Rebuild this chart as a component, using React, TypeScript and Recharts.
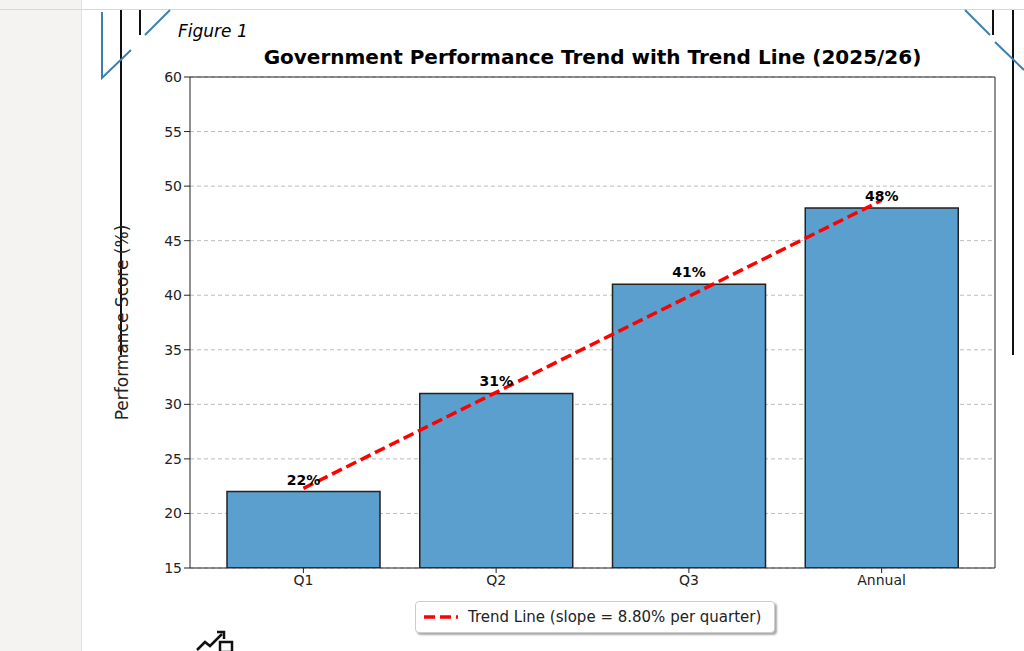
import React from "react";
import { ComposedChart, Bar, Line, XAxis, YAxis, CartesianGrid, LabelList } from "recharts";

const categories = ["Q1", "Q2", "Q3", "Annual"];
const scores = [22, 31, 41, 48];
const trend = [22.3, 31.1, 39.9, 48.7];
const yTicks = [15, 20, 25, 30, 35, 40, 45, 50, 55, 60];

const data = categories.map((c, i) => ({ name: c, score: scores[i], trend: trend[i] }));
const font = "DejaVu Sans, sans-serif";

export default function App() {
  return (
    <div style={{ position: "fixed", left: 0, top: 0, width: 1024, height: 651, background: "#fff", fontFamily: font, overflow: "hidden" }}>
      <div style={{ position: "absolute", left: 0, top: 0, width: 81, height: 651, background: "#f4f3f1", borderRight: "1px solid #e2e2e2" }} />
      <div style={{ position: "absolute", left: 0, top: 9, width: 1024, height: 1, background: "#d8d8d8" }} />
      <svg style={{ position: "absolute", left: 0, top: 0 }} width={1024} height={651}>
        <line x1={121} y1={10} x2={121} y2={355} stroke="#111" strokeWidth={2} />
        <line x1={1013} y1={10} x2={1013} y2={355} stroke="#111" strokeWidth={2} />
        <line x1={140} y1={10} x2={140} y2={35} stroke="#111" strokeWidth={2} />
        <line x1={993} y1={10} x2={993} y2={35} stroke="#111" strokeWidth={2} />
        <polyline points="102,12 102,78 131,50" fill="none" stroke="#3a7fb0" strokeWidth={2} />
        <line x1={145} y1={35} x2={170} y2={10} stroke="#3a7fb0" strokeWidth={2} />
        <line x1={965} y1={10} x2={990} y2={35} stroke="#3a7fb0" strokeWidth={2} />
        <line x1={995} y1={42} x2={1024} y2={70} stroke="#3a7fb0" strokeWidth={2} />
      </svg>
      <div style={{ position: "absolute", left: 178, top: 21, fontSize: 17, fontStyle: "italic" }}>Figure 1</div>
      <div style={{ position: "absolute", left: 190, width: 805, top: 45, textAlign: "center", fontSize: 20, fontWeight: "bold" }}>
        Government Performance Trend with Trend Line (2025/26)
      </div>
      <div style={{ position: "absolute", left: 0, top: 0 }}>
        <ComposedChart width={1024} height={651} data={data} margin={{ top: 77, right: 29, bottom: 53, left: 130 }}>
          <CartesianGrid vertical={false} stroke="#bbb" strokeDasharray="4 3" />
          <XAxis dataKey="name" padding={{ left: 17, right: 17 }} tick={{ fill: "#222", fontSize: 14, fontFamily: font }} tickSize={5} stroke="#222" height={30} />
          <YAxis domain={[15, 60]} ticks={yTicks} width={60} tick={{ fill: "#222", fontSize: 14, fontFamily: font }} stroke="#222" allowDataOverflow
            label={{ value: "Performance Score (%)", angle: -90, position: "insideLeft", offset: -8, style: { fontSize: 17, fill: "#222", textAnchor: "middle", fontFamily: font } }} />
          <Bar dataKey="score" fill="#5a9fcd" stroke="#222" strokeWidth={1.5} barSize={153} isAnimationActive={false}>
            <LabelList dataKey="score" position="top" offset={7} formatter={(v: number) => `${v}%`} style={{ fontWeight: "bold", fontSize: 14, fill: "#000", fontFamily: font }} />
          </Bar>
          <Line dataKey="trend" stroke="#ff0000" strokeWidth={3.5} strokeDasharray="11 5" dot={false} isAnimationActive={false} />
          <line x1={190} y1={77} x2={995} y2={77} stroke="#222" />
          <line x1={995} y1={77} x2={995} y2={568} stroke="#222" />
        </ComposedChart>
      </div>
      <div style={{ position: "absolute", left: 415, top: 601, width: 358, height: 30, border: "1px solid #ccc", borderRadius: 4, boxShadow: "2px 2px 2px #aaa", background: "#fff", display: "flex", alignItems: "center", fontSize: 15, color: "#222" }}>
        <svg width={48} height={10} style={{ marginLeft: 4 }}><line x1={4} y1={5} x2={38} y2={5} stroke="#f00" strokeWidth={3.5} strokeDasharray="11 5" /></svg>
        Trend Line (slope = 8.80% per quarter)
      </div>
      <svg style={{ position: "absolute", left: 195, top: 628 }} width={45} height={23}>
        <polyline points="2,22 10,14 15,18 27,6" fill="none" stroke="#111" strokeWidth={2.5} />
        <polyline points="22,4 29,4 29,11" fill="none" stroke="#111" strokeWidth={2.5} />
        <rect x={25} y={14} width={12} height={10} fill="none" stroke="#111" strokeWidth={2.5} />
      </svg>
    </div>
  );
}
